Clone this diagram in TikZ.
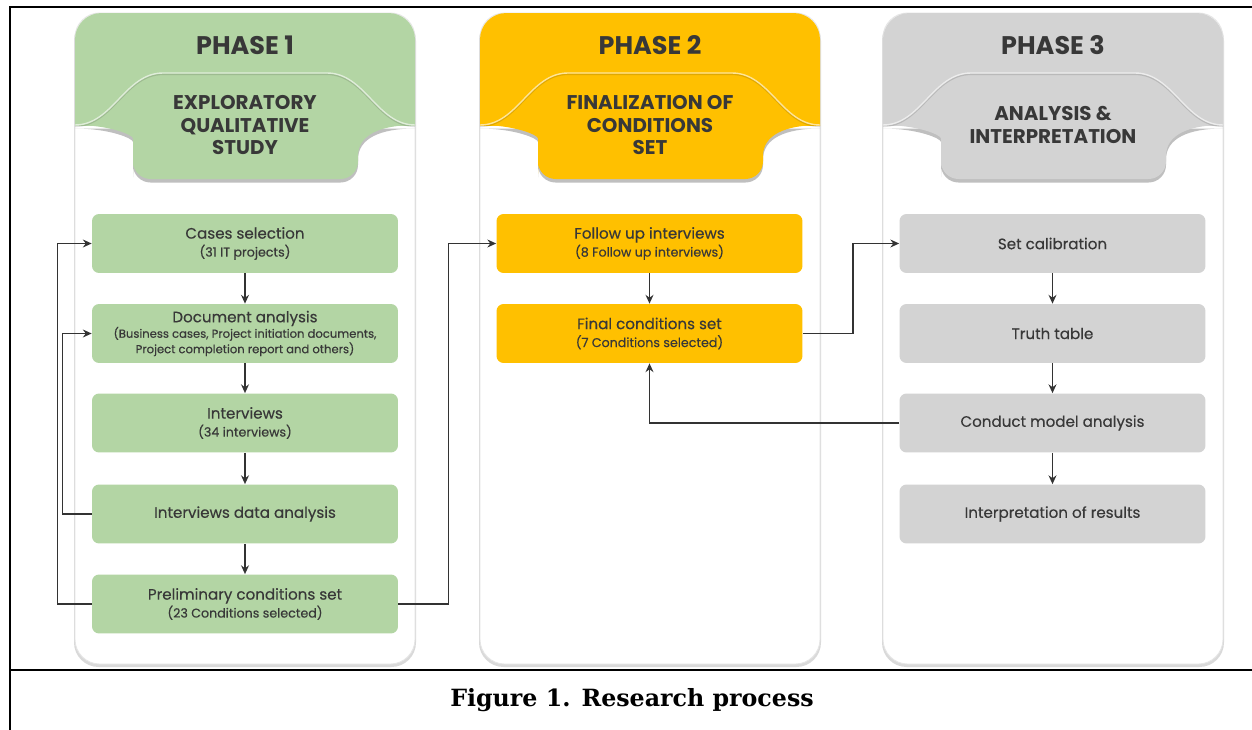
\documentclass[tikz,border=0pt]{standalone}
\usepackage{fontspec}
\setmainfont{DejaVu Serif}
\newfontfamily\pop{Poppins}[FakeBold=0.4]
\newfontfamily\poph{Poppins}
\usetikzlibrary{arrows.meta}
\definecolor{gA}{HTML}{B3D5A4}
\definecolor{yA}{HTML}{FFC000}
\definecolor{sA}{HTML}{D3D3D3}
\definecolor{txt}{HTML}{383838}
\newcommand{\sm}{\fontsize{7.2}{9.5}\selectfont}
\newcommand{\smm}{\fontsize{6.6}{7.4}\selectfont}
\tikzset{
  box/.style={rounded corners=4pt, minimum width=6.12cm, minimum height=1.18cm, align=center,
    font=\pop\fontsize{8.6}{10.2}\selectfont, text=txt, inner sep=0pt},
  hd/.style={font=\poph\bfseries\fontsize{14.5}{16}\selectfont, text=txt},
  tab/.style={font=\poph\bfseries\fontsize{11.3}{12.8}\selectfont, text=txt, align=center},
  arr/.style={draw=black!80, line width=0.8pt, -{Stealth[length=5pt,width=4.5pt]}},
  frame/.style={line width=1.5pt, black}
}
\begin{document}
\begin{tikzpicture}[x=0.02cm,y=-0.02cm]
\useasboundingbox (0,0) rectangle (1252,730);
\fill[white] (0,0) rectangle (1252,730);
% panels
\foreach \L/\c in {75/gA,480/yA,883/sA}{
  \pgfmathsetmacro\R{\L+340}
  \fill[black!15, rounded corners=14pt] (\L-1,16) rectangle (\R+1,667);
  \fill[white, draw=black!10, line width=0.5pt, rounded corners=14pt] (\L,13) rectangle (\R,664);
  \begin{scope}
    \clip (\L-2,0) rectangle (\R+2,125);
    \fill[\c, rounded corners=15pt] (\L,13) rectangle (\R,220);
  \end{scope}
  % tab shadow
  \fill[black!25, yshift=-2pt] (\R,125) .. controls (\R-35,125) and (\R-57,135) .. (\R-57,156)
     [rounded corners=10pt] -- (\R-57,179) -- (\L+58,179) -- (\L+58,156) [sharp corners]
     .. controls (\L+58,135) and (\L+35,125) .. (\L,125) -- cycle;
  % tab
  \fill[\c] (\L,125) .. controls (\L+38,125) and (\L+50,73) .. (\L+88,73) -- (\R-88,73)
     .. controls (\R-50,73) and (\R-38,125) .. (\R,125)
     .. controls (\R-35,125) and (\R-57,135) .. (\R-57,156)
     [rounded corners=10pt] -- (\R-57,179) -- (\L+58,179) -- (\L+58,156) [sharp corners]
     .. controls (\L+58,135) and (\L+35,125) .. (\L,125) -- cycle;
  \draw[black, opacity=0.12, line width=0.8pt, yshift=-0.8pt] (\L,125) .. controls (\L+38,125) and (\L+50,73) .. (\L+88,73) -- (\R-88,73)
     .. controls (\R-50,73) and (\R-38,125) .. (\R,125);
  \draw[white, opacity=0.6, line width=0.8pt] (\L,125) .. controls (\L+38,125) and (\L+50,73) .. (\L+88,73) -- (\R-88,73)
     .. controls (\R-50,73) and (\R-38,125) .. (\R,125);
}
% headers
\node[hd] (h1) at (245,45) {PHASE 1};
\node[hd] (h2) at (650,45) {PHASE 2};
\node[hd] (h3) at (1053,45) {PHASE 3};
\node[tab] (t1) at (245,125) {EXPLORATORY\\QUALITATIVE\\STUDY};
\node[tab] (t2) at (650,125) {FINALIZATION OF\\CONDITIONS\\SET};
\node[tab] (t3) at (1053,125) {ANALYSIS \&\\INTERPRETATION};
% phase 1 boxes
\node[box, fill=gA] (p1a) at (245,243.5) {Cases selection\\\sm (31 IT projects)};
\node[box, fill=gA, font=\pop\fontsize{8.6}{8.8}\selectfont] (p1b) at (245,333.5) {Document analysis\\\smm (Business cases, Project initiation documents,\\\smm Project completion report and others)};
\node[box, fill=gA] (p1c) at (245,423) {Interviews\\\sm (34 interviews)};
\node[box, fill=gA] (p1d) at (245,514) {Interviews data analysis};
\node[box, fill=gA] (p1e) at (245,604) {Preliminary conditions set\\\sm (23 Conditions selected)};
% phase 2 boxes
\node[box, fill=yA] (p2a) at (649.5,243.5) {Follow up interviews\\\sm (8 Follow up interviews)};
\node[box, fill=yA] (p2b) at (649.5,333.5) {Final conditions set\\\sm (7 Conditions selected)};
% phase 3 boxes
\node[box, fill=sA] (p3a) at (1052.5,243.5) {Set calibration};
\node[box, fill=sA] (p3b) at (1052.5,333.5) {Truth table};
\node[box, fill=sA] (p3c) at (1052.5,423) {Conduct model analysis};
\node[box, fill=sA] (p3d) at (1052.5,514) {Interpretation of results};
% connectors
\draw[arr] (p1a) -- (p1b);
\draw[arr] (p1b) -- (p1c);
\draw[arr] (p1c) -- (p1d);
\draw[arr] (p1d) -- (p1e);
\draw[arr] (p2a) -- (p2b);
\draw[arr] (p3a) -- (p3b);
\draw[arr] (p3b) -- (p3c);
\draw[arr] (p3c) -- (p3d);
\draw[arr] (p1d.west) -- ++(-29,0) |- (p1b.west);
\draw[arr] (p1e.west) -- ++(-34,0) |- (p1a.west);
\draw[arr] (p1e.east) -- ++(50,0) |- (p2a.west);
\draw[arr] (p2b.east) -- ++(50,0) |- (p3a.west);
\draw[arr] (p3c.west) -| (p2b.south);
% frame
\draw[frame] (10,730) -- (10,7) -- (1252,7);
\draw[frame] (10,670) -- (1252,670);
\node[font=\bfseries\fontsize{13.5}{16}\selectfont, anchor=base] (cap) at (632,706) {Figure 1. Research process};
\end{tikzpicture}
\end{document}
